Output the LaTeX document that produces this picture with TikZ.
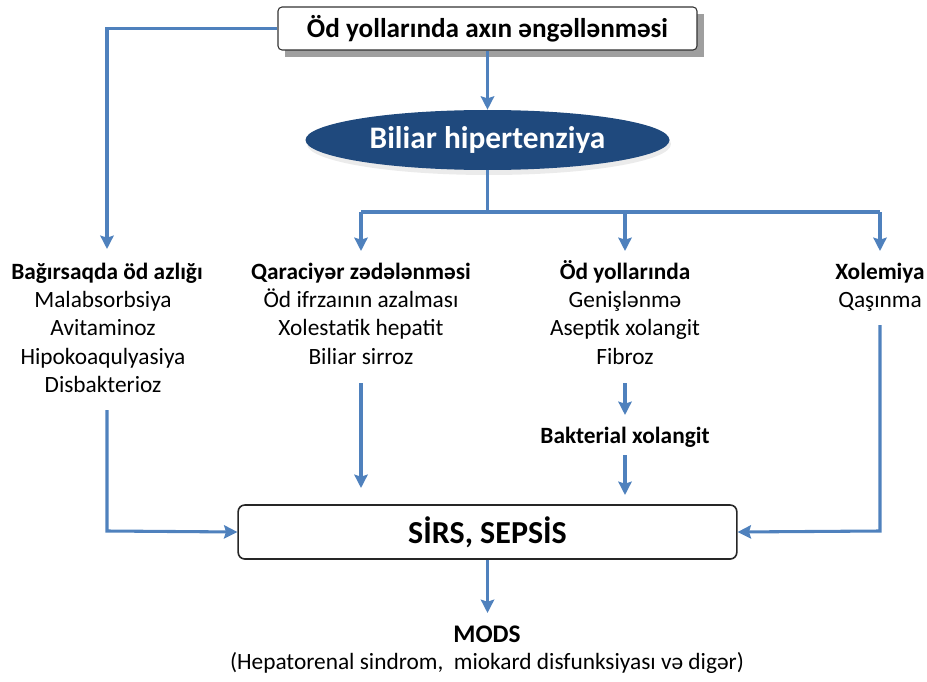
\documentclass[tikz,border=0pt]{standalone}
\usepackage{fontspec}
\setmainfont{Carlito}
\usetikzlibrary{shapes.geometric,arrows.meta,positioning}
\definecolor{lineblue}{HTML}{4F81BD}
\definecolor{ellblue}{HTML}{1F497D}
\tikzset{
  conn/.style={draw=lineblue, line width=2.3pt, -{Stealth[length=10pt,width=10pt,inset=1.5pt]}},
  plain/.style={draw=lineblue, line width=2.3pt},
  txt/.style={inner sep=0pt, anchor=base, font=\fontsize{17.5}{20}\selectfont, align=center},
  btxt/.style={txt, font=\fontsize{17.5}{20}\selectfont\bfseries},
}
\begin{document}
\begin{tikzpicture}[x=0.75pt,y=-0.75pt]
\useasboundingbox (0,0) rectangle (927,681);
% top box
\fill[gray!75] (285,14) rectangle (704,57);
\node[draw=black!80, fill=white, rounded corners=3pt, line width=0.8pt, minimum width=314.25pt, minimum height=32.25pt, inner sep=0pt, font=\fontsize{20.4}{22}\selectfont\bfseries] (top) at (487.5,28.5) {Öd yollarında axın əngəllənməsi};
% ellipse
\fill[black!8] (489,144) ellipse (182 and 31);
\node[ellipse, fill=ellblue, minimum width=273pt, minimum height=45pt, inner sep=0pt, text=white, font=\fontsize{23.5}{26}\selectfont\bfseries] (bh) at (487.5,140) {Biliar hipertenziya};
% columns
\node[btxt] (c1h) at (107,279) {Bağırsaqda öd azlığı};
\node[txt] (c1a) at (103,307) {Malabsorbsiya};
\node[txt] (c1b) at (103,335) {Avitaminoz};
\node[txt] (c1c) at (103,364) {Hipokoaqulyasiya};
\node[txt] (c1d) at (103,392) {Disbakterioz};
\node[btxt] (c2h) at (361,279) {Qaraciyər zədələnməsi};
\node[txt] (c2a) at (361,307) {Öd ifrzaının azalması};
\node[txt] (c2b) at (361,335) {Xolestatik hepatit};
\node[txt] (c2c) at (361,364) {Biliar sirroz};
\node[btxt] (c3h) at (625,279) {Öd yollarında};
\node[txt] (c3a) at (625,307) {Genişlənmə};
\node[txt] (c3b) at (625,335) {Aseptik xolangit};
\node[txt] (c3c) at (625,364) {Fibroz};
\node[btxt] (c3d) at (625,443) {Bakterial xolangit};
\node[btxt] (c4h) at (880,279) {Xolemiya};
\node[txt] (c4a) at (880,307) {Qaşınma};
% sirs box
\node[draw=black!85, fill=white, rounded corners=5pt, line width=1.2pt, minimum width=374pt, minimum height=40.5pt, inner sep=0pt, font=\fontsize{24}{28}\selectfont\bfseries] (sirs) at (487.5,532) {SİRS, SEPSİS};
\node[btxt, font=\fontsize{19}{22}\selectfont\bfseries] (mods) at (487,642) {MODS};
\node[txt] (modsd) at (487,669) {(Hepatorenal sindrom,\ \ miokard disfunksiyası və digər)};
% coordinates
\coordinate (L1) at (107,28.5);
\coordinate (L2) at (107,249);
\coordinate (B1) at (487.5,212);
\coordinate (B2) at (361,212);
\coordinate (B3) at (880,212);
\coordinate (A2) at (361,251);
\coordinate (A3) at (625,251);
\coordinate (A4) at (880,251);
\coordinate (J3) at (625,212);
\coordinate (F1) at (625,383);
\coordinate (F2) at (625,415);
\coordinate (G1) at (625,455);
\coordinate (G2) at (625,495);
\coordinate (Q1) at (361,383);
\coordinate (Q2) at (361,488);
\coordinate (D1) at (107,410);
\coordinate (D2) at (107,531);
\coordinate (X1) at (880,325);
\coordinate (X2) at (880,531);
\coordinate (M1) at (487.5,613);
% connectors
\draw[conn] (top.south) -- (bh.north);
\draw[conn] (top.west) -- (L1) -- (L2);
\draw[plain] (bh.south) -- (B1);
\draw[plain] (B2) -- (B3);
\draw[conn] (B2) -- (A2);
\draw[conn] (J3) -- (A3);
\draw[conn] (B3) -- (A4);
\draw[conn] (F1) -- (F2);
\draw[conn] (G1) -- (G2);
\draw[conn] (Q1) -- (Q2);
\draw[conn] (D1) -- (D2) -- (sirs.west);
\draw[conn] (X1) -- (X2) -- (sirs.east);
\draw[conn] (sirs.south) -- (M1);
\end{tikzpicture}
\end{document}
